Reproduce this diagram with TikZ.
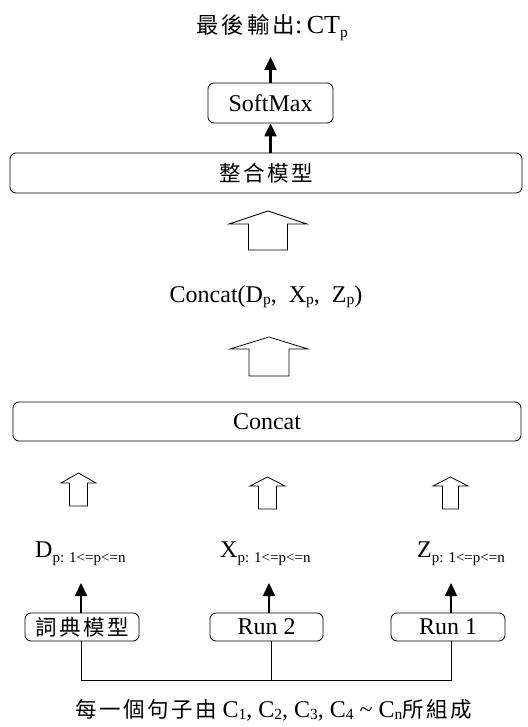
\documentclass[tikz,border=0pt]{standalone}
\usepackage{fontspec}
\setmainfont{Liberation Serif}
\newfontfamily\cjk{Noto Sans CJK TC}
\usetikzlibrary{arrows.meta}
\newcommand\mysub[1]{\raisebox{-0.22em}{\fontsize{15}{15}\selectfont #1}}
\newcommand\csub[1]{\raisebox{-0.12em}{\fontsize{15.5}{15.5}\selectfont #1}}
\newcommand\ck{\kern2.5pt}
\newcommand\cjkf{\fontsize{21.5}{24}\selectfont\cjk}
\tikzset{
  latin/.style={font=\fontsize{24}{26}\selectfont},
  rbox/.style={draw, line width=0.8pt, rounded corners=6pt, inner sep=0pt, latin},
  blk/.style={line width=2.2pt, -{Triangle[length=13pt,width=12pt]}},
  hollow/.style={draw, line width=0.8pt, fill=white},
  wire/.style={line width=0.8pt}
}
\newcommand\blockarrow[6]{% x, tip y, head base y, half head, half shaft, bottom y
  \draw[hollow] (#1,#2) -- (#1+#4,#3) -- (#1+#5,#3) -- (#1+#5,#6) -- (#1-#5,#6) -- (#1-#5,#3) -- (#1-#4,#3) -- cycle;}
\begin{document}
\begin{tikzpicture}[x=1pt,y=-1pt]
\useasboundingbox (0,0) rectangle (527,727);
% title
\node[font=\fontsize{26}{28}\selectfont, anchor=base, inner sep=0pt] (title) at (272,34) {{\fontsize{22.5}{24}\selectfont\cjk 最\kern3pt 後\kern3pt 輸\kern3pt 出}:\,CT\csub{p}};
% softmax
\node[rbox, minimum width=125pt, minimum height=40pt] (soft) at (270.5,103) {SoftMax};
% integration model
\node[rbox, minimum width=512pt, minimum height=40pt] (integ) at (266,173) {\cjkf 整\ck 合\ck 模\ck 型};
\coordinate (ttl) at (270.5,57);
\draw[blk] (soft.north) -- (ttl);
\draw[blk] (soft.south |- integ.north) -- (soft.south);
% big hollow arrows
\blockarrow{268}{211}{224}{39}{19.5}{250}
\node[latin, anchor=base, inner sep=0pt] (clabel) at (266,302) {Concat(D\csub{p},\ \ X\csub{p},\ \ Z\csub{p})};
\blockarrow{269}{337}{349}{39}{20}{376}
% concat box
\node[rbox, minimum width=508pt, minimum height=39pt] (concat) at (267,421.5) {Concat};
% small hollow arrows
\blockarrow{78.5}{473}{483}{17.5}{9}{506}
\blockarrow{267.5}{477}{486}{17.5}{9}{509}
\blockarrow{450.5}{477}{486}{17.5}{8}{509}
% labels
\node[latin, anchor=base west, inner sep=0pt] (dl) at (35,557) {D\mysub{p: 1<=p<=n}};
\node[latin, anchor=base west, inner sep=0pt] (xl) at (220,557) {X\mysub{p: 1<=p<=n}};
\node[latin, anchor=base west, inner sep=0pt] (zl) at (417,557) {Z\mysub{p: 1<=p<=n}};
% model boxes
\node[rbox, minimum width=114pt, minimum height=28pt] (dict) at (82,627) {\cjkf 詞\ck 典\ck 模\ck 型};
\node[rbox, minimum width=113pt, minimum height=28pt] (run2) at (266.5,627) {Run 2};
\node[rbox, minimum width=114pt, minimum height=28pt] (run1) at (448,627) {Run 1};
\coordinate (dt) at (81,583);
\coordinate (xt) at (269,583);
\coordinate (zt) at (451,583);
\draw[blk] (dt |- dict.north) -- (dt);
\draw[blk] (xt |- run2.north) -- (xt);
\draw[blk] (zt |- run1.north) -- (zt);
% bus
\coordinate (bus) at (271,680);
\draw[wire] (dt |- dict.south) -- (dt |- bus) -- (zt |- bus) -- (zt |- run1.south);
\draw[wire] (bus |- run2.south) -- (bus);
% bottom text
\node[latin, anchor=base, inner sep=0pt] (input) at (273.5,717) {{\cjkf 每\ck 一\ck 個\ck 句\ck 子\ck 由}\ C\csub{1}, C\csub{2}, C\csub{3}, C\csub{4} \textasciitilde\ C\csub{n}{\cjkf 所\ck 組\ck 成}};
\end{tikzpicture}
\end{document}
